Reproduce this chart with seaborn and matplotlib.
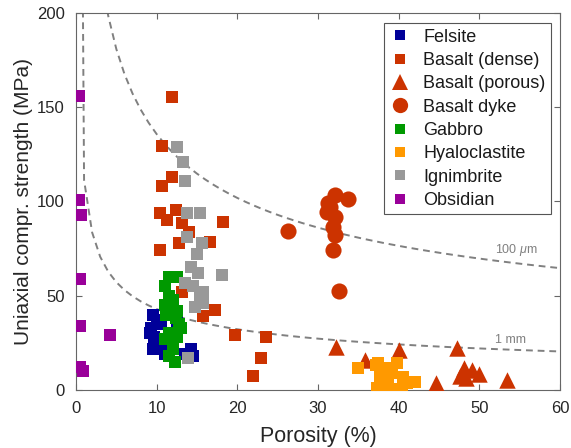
import numpy as np
import pandas as pd
import matplotlib
matplotlib.use("Agg")
import matplotlib.pyplot as plt
from matplotlib.lines import Line2D
import seaborn as sns

# Porosity (%) and uniaxial compressive strength (MPa) per rock type
felsite_phi = [9.5, 10.0, 9.3, 10.5, 9.7, 10.3, 9.5, 10.8, 11.5, 12.5, 12.5, 11.0, 14.2, 14.5, 13.5, 9.2]
felsite_ucs = [40, 37, 33, 35, 28, 25, 22, 22, 30, 36, 28, 19, 22, 18, 19, 30]

basalt_dense_phi = [11.9, 10.7, 11.9, 10.7, 10.4, 12.4, 11.3, 13.1, 14.0, 18.2, 10.4, 12.8, 16.6,
                    17.2, 15.7, 19.7, 23.5, 22.9, 21.9, 13.1]
basalt_dense_ucs = [155.5, 129.5, 113, 108, 94, 95.5, 90, 88.5, 84, 89, 74, 78, 78.5,
                    42.5, 39, 29, 28, 17, 7.5, 52]

basalt_porous_phi = [32.2, 35.8, 40.1, 47.2, 44.6, 48.1, 49.1, 49.9, 53.4, 48.4, 47.6]
basalt_porous_ucs = [22.8, 16.0, 21.4, 22.3, 3.7, 11.7, 10.6, 8.5, 5.3, 6.4, 7.4]

basalt_dyke_phi = [32.1, 33.7, 31.2, 31.1, 32.1, 31.9, 32.1, 26.3, 31.8, 32.6, 31.5]
basalt_dyke_ucs = [103.4, 101.3, 99, 94.5, 92, 86.7, 82, 84.3, 74.3, 52.5, 97]

gabbro_phi = [11.5, 12.5, 11.0, 11.5, 11.0, 11.2, 12.5, 12.8, 11.5, 12.5, 11.0, 12.0, 11.5, 12.3, 13.0, 12.0, 12.4]
gabbro_ucs = [60, 60, 55, 50, 45, 40, 42, 35, 30, 28, 27, 22, 18, 15, 33, 48, 38]

hyalo_phi = [35.0, 37.2, 37.3, 37.4, 39.8, 37.7, 39.2, 40.5, 42.0, 39.3, 40.4, 41.0, 38.7, 38.3]
hyalo_ucs = [11.6, 13.0, 1.0, 14.2, 14.2, 7.0, 9.0, 7.0, 4.2, 0.5, 0.5, 3.7, 2.6, 11.7]

ignimbrite_phi = [12.5, 13.3, 13.5, 13.7, 15.4, 13.7, 15.6, 15.0, 18.1, 15.1, 13.5, 14.5,
                  15.4, 14.7, 15.8, 13.9, 14.2, 15.8]
ignimbrite_ucs = [129, 121, 111, 94, 94, 81, 78, 72, 61, 62, 57, 55, 50, 44, 46, 17, 65, 52]

obsidian_phi = [0.4, 0.4, 0.6, 0.5, 0.5, 4.2, 0.5, 0.9]
obsidian_ucs = [156, 101, 93, 59, 34, 29, 12, 10]

groups = [
    ("Felsite", felsite_phi, felsite_ucs, "#000099", "s"),
    ("Basalt (dense)", basalt_dense_phi, basalt_dense_ucs, "#CC3300", "s"),
    ("Basalt (porous)", basalt_porous_phi, basalt_porous_ucs, "#CC3300", "^"),
    ("Basalt dyke", basalt_dyke_phi, basalt_dyke_ucs, "#CC3300", "o"),
    ("Gabbro", gabbro_phi, gabbro_ucs, "#009900", "s"),
    ("Hyaloclastite", hyalo_phi, hyalo_ucs, "#FF9900", "s"),
    ("Ignimbrite", ignimbrite_phi, ignimbrite_ucs, "#999999", "s"),
    ("Obsidian", obsidian_phi, obsidian_ucs, "#990099", "s"),
]

# Sammis & Ashby pore-emanating crack model
K_IC = 0.7  # MPa m^0.5
pore_radii = [(100e-6, r"100 $\mu$m", 74.5), (1e-3, "1 mm", 26.5)]
phi_model = np.concatenate([[0.0001], np.arange(1, 61) / 100.0])

sns.set_theme(style="white")
plt.rcParams["font.family"] = ["Liberation Sans", "DejaVu Sans"]
plt.rcParams["mathtext.fontset"] = "custom"
plt.rcParams["mathtext.it"] = "Liberation Sans:italic"

fig = plt.figure(figsize=(5.71, 4.48), dpi=100)
ax = fig.add_axes([0.1331, 0.1295, 0.8476, 0.8415])

for r, lab, ytxt in pore_radii:
    ucs_model = 1.325 / phi_model ** 0.414 * K_IC / np.sqrt(np.pi * r)
    sns.lineplot(x=phi_model * 100, y=ucs_model, ax=ax, color="#808080", lw=1.4,
                 dashes=False, sort=False, estimator=None, zorder=1)
    ax.lines[-1].set_dashes((3.5, 2.5))
    ax.text(52.0, ytxt, lab, color="#808080", fontsize=9, ha="left", va="center")

sizes = {"s": 81, "^": 140, "o": 135}
for name, xs, ys, col, mk in groups:
    df = pd.DataFrame({"phi": xs, "ucs": ys})
    sns.scatterplot(data=df, x="phi", y="ucs", ax=ax, color=col, marker=mk,
                    s=sizes[mk], linewidth=0, zorder=3, legend=False)

ax.set_xlim(0, 60)
ax.set_ylim(0, 200)
ax.set_xticks(range(0, 61, 10))
ax.set_yticks(range(0, 201, 50))
ax.tick_params(direction="in", length=4, width=0.8, color="#666666",
               labelsize=12, labelcolor="#262626", top=True, right=True,
               bottom=True, left=True, pad=8)
for sp in ax.spines.values():
    sp.set_color("#666666")
    sp.set_linewidth(0.8)
ax.set_xlabel("Porosity (%)", fontsize=15.5, color="#262626", labelpad=7)
ax.set_ylabel("Uniaxial compr. strength (MPa)", fontsize=15, color="#262626", labelpad=3)

leg_ms = {"s": 6.5, "^": 11, "o": 11}
handles = [Line2D([], [], linestyle="none", marker=mk, color=col, markersize=leg_ms[mk],
                  markeredgewidth=0, label=name)
           for name, _, _, col, mk in groups]
leg = ax.legend(handles=handles, loc="upper right", bbox_to_anchor=(0.9814, 0.973),
                fontsize=13, frameon=True, fancybox=False, framealpha=1,
                edgecolor="#555555", handlelength=1.2, handletextpad=0.7,
                labelspacing=0.35, borderpad=0.3, borderaxespad=0)
leg.get_frame().set_linewidth(0.8)
for t in leg.get_texts():
    t.set_color("#1a1a1a")

fig.savefig("out.png", dpi=100)
